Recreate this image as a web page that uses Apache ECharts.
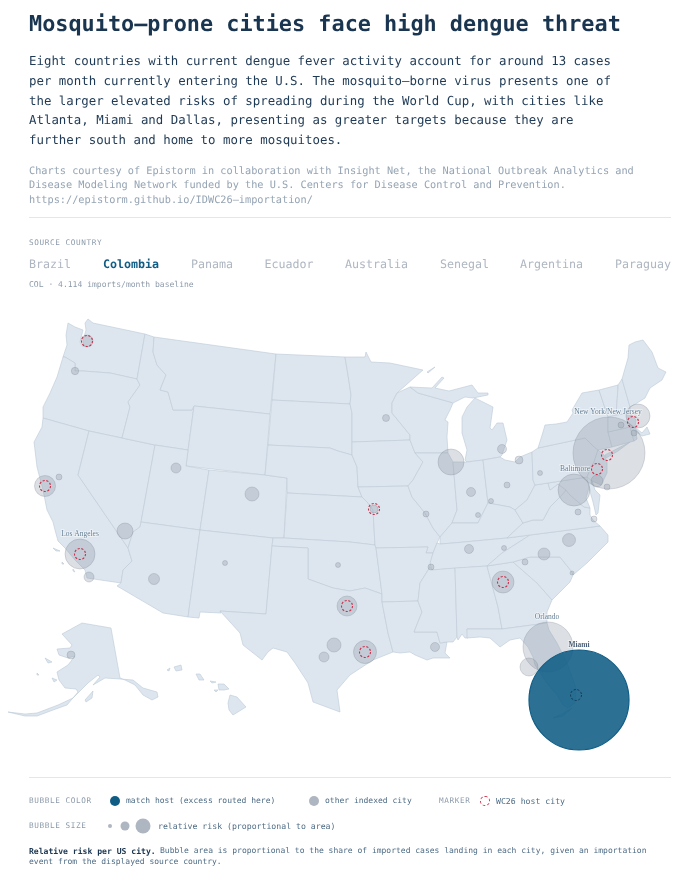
<!DOCTYPE html>
<html><head><meta charset="utf-8">
<script src="https://cdn.jsdelivr.net/npm/echarts@6/dist/echarts.min.js"></script>
<style>
html,body{margin:0;padding:0;background:#fff;width:700px;height:875px;overflow:hidden}
body{position:relative;font-family:"DejaVu Sans Mono",monospace;text-rendering:geometricPrecision}
#chart{position:absolute;left:0;top:0;width:700px;height:875px}
.t{position:absolute;white-space:pre;line-height:1;transform:translateY(-50%)}
.rule{position:absolute;left:29px;width:642px;height:1px;background:#e3e7eb}
.dot{position:absolute;border-radius:50%;transform:translate(-50%,-50%);box-sizing:border-box}
</style></head><body>
<div id="chart"></div>
<div id="page"></div>
<script>
// ---------- data ----------
const titleText = "Mosquito–prone cities face high dengue threat";
const ledeLines = [
 "Eight countries with current dengue fever activity account for around 13 cases",
 "per month currently entering the U.S. The mosquito–borne virus presents one of",
 "the larger elevated risks of spreading during the World Cup, with cities like",
 "Atlanta, Miami and Dallas, presenting as greater targets because they are",
 "further south and home to more mosquitoes."];
const sourceLines = [
 "Charts courtesy of Epistorm in collaboration with Insight Net, the National Outbreak Analytics and",
 "Disease Modeling Network funded by the U.S. Centers for Disease Control and Prevention.",
 "https://epistorm.github.io/IDWC26–importation/"];
const countries = ["Brazil","Colombia","Panama","Ecuador","Australia","Senegal","Argentina","Paraguay"];
const activeCountry = "Colombia";

// city name, map x, map y (map units of the base map), relative risk share
const cityNames = ["Orlando","New York/New Jersey","Washington","Los Angeles","Chicago","Boston","Houston","Atlanta","San Francisco","Dallas","Tampa","Denver","Las Vegas","Austin","Raleigh","Charlotte","Seattle","Philadelphia","Phoenix","Salt Lake City","San Diego","San Antonio","New Orleans","Detroit","Indianapolis","Nashville","Portland","Cleveland","Anchorage","Kansas City","Minneapolis","Sacramento","Columbus","St. Louis","Memphis","Greenville","Hartford","Providence","Atlantic City","Richmond","Norfolk","Pittsburgh","Albuquerque","Oklahoma City","Cincinnati","Louisville","Knoxville","Wilmington"];
const cityX = [548,609,574,80,451,638,365,503,45,347,529,252,125,334,569,544,87,597,154,176,89,324,435,502,471,469,75,519,71,374,386,59,507,426,431,525,621,634,607,578,594,540,225,338,491,478,504,572];
const cityY = [647,453,490,554,462,416,652,582,486,606,667,494,531,645,540,554,341,481,579,468,577,657,647,449,492,549,371,460,655,509,418,477,485,514,567,562,425,433,487,512,519,473,563,565,501,515,548,573];
const cityShare = [25,51.84,10.24,9,6.76,5.76,5.29,4.84,4.41,4,3.24,1.96,2.56,1.96,1.69,1.44,1.44,1.44,1.21,1,1,1,0.81,0.81,0.81,0.81,0.55,0.64,0.64,0.64,0.49,0.36,0.36,0.36,0.36,0.36,0.36,0.36,0.36,0.36,0.36,0.25,0.25,0.25,0.25,0.25,0.25,0.16];
const matchCity = {name:"Miami", x:579, y:700, share:100};
// WC26 host markers
const hostNames = ["Seattle","San Francisco","Los Angeles","Kansas City","Dallas","Houston","Atlanta","New York/New Jersey","Philadelphia","Boston"];
const hostX = [87,45,80,374,347,365,503,607,597,633];
const hostY = [341,486,554,509,606,652,582,455,469,422];
const miamiHost = {x:576,y:695};
// labelled cities
const labels = [
 {text:"Los Angeles",x:80,y:534,bold:false},
 {text:"Orlando",x:547,y:617,bold:false},
 {text:"Miami",x:579,y:645,bold:true},
 {text:"New York/New Jersey",x:608,y:412,bold:false},
 {text:"Baltimore",x:575,y:469,bold:false}];

// base map shapes, flat x,y lists
const STATES = {
WA:[88,319,93,323,145,334,137,379,110,373,83,371,75,371,75,363,65,357,63,357,67,345,66,335,68,323,75,327,83,330,80,342,82,346,84,346,83,340,86,330,85,323],
OR:[63,357,65,357,75,363,75,371,83,371,110,373,137,379,140,385,128,402,130,407,122,438,89,431,43,418,43,407,50,393,57,377],
CA:[43,418,89,431,78,475,128,548,132,561,123,570,121,583,87,578,85,570,75,560,65,548,58,541,55,530,53,522,47,510,43,490,37,467,34,442,42,427],
NV:[89,431,122,438,155,445,141,522,140,527,133,532,128,548,78,475],
ID:[145,334,154,337,153,352,157,365,166,375,160,390,168,392,173,410,192,410,194,406,188,450,155,445,122,438,130,407,128,402,140,385,137,379],
MT:[154,337,276,354,270,414,194,406,192,410,173,410,168,392,160,390,166,375,157,365,153,352],
WY:[194,406,270,414,265,475,186,466],
UT:[155,445,188,450,186,466,209,470,200,530,141,522],
CO:[209,470,265,475,287,478,284,538,273,538,200,530],
AZ:[141,522,200,530,188,617,163,613,117,586,121,583,123,570,132,561,128,548,133,532,140,527],
NM:[200,530,273,538,272,546,266,614,220,611,221,613,200,612,199,618,188,617],
ND:[276,354,345,357,348,375,351,395,350,404,272,400],
SD:[272,400,350,404,352,413,352,442,352,455,338,451,330,448,268,445],
NE:[268,445,330,448,338,451,352,455,357,467,358,487,362,497,287,493,287,478,265,475],
KS:[287,493,362,497,368,503,373,510,375,545,350,542,284,538],
OK:[273,538,284,538,350,542,375,545,376,548,382,594,365,588,350,591,333,588,308,579,308,548,272,546],
TX:[272,546,308,548,308,579,333,588,350,591,365,588,382,594,382,602,388,633,393,652,373,660,350,675,337,690,340,712,313,702,308,683,295,663,287,652,273,648,268,652,262,660,243,645,240,633,220,611,266,614],
MN:[345,357,365,357,366,352,371,362,390,363,423,370,397,393,392,403,392,413,410,435,410,440,352,442,352,413,350,404,351,395,348,375],
IA:[352,442,410,440,415,453,423,462,413,480,408,486,358,487,357,467,352,455],
MO:[358,487,408,486,412,497,425,513,433,528,440,537,437,543,433,553,426,553,428,547,376,548,375,545,373,510,368,503,362,497],
AR:[376,548,428,547,426,553,433,553,430,567,420,583,418,601,382,602,382,594],
LA:[382,602,418,601,422,612,414,632,437,632,440,643,447,642,445,653,450,658,433,658,427,660,415,655,410,652,400,653,393,652,388,633],
WI:[397,393,410,387,418,393,450,402,453,403,450,410,445,420,448,422,447,437,448,453,415,453,410,440,410,435,392,413,392,403],
UP:[410,387,432,388,442,377,444,378,435,388,449,391,472,385,478,393,488,393,488,395,473,398,465,397,453,403,450,402,418,393],
IR:[427,372,435,367,436,368,428,373],
LP:[475,398,493,407,490,428,492,430,497,423,503,423,507,440,502,455,500,457,483,460,467,462,465,460,467,450,462,433,462,417,467,407],
IL:[415,453,448,453,453,462,457,510,452,523,440,537,433,528,425,513,412,497,408,486,413,480,423,462],
IN:[453,462,463,462,467,462,483,460,488,503,478,523,452,523,457,510],
OH:[483,460,500,457,505,460,515,462,520,457,532,452,533,480,535,485,527,500,515,510,510,507,488,503],
KY:[440,537,452,523,478,523,488,503,510,507,515,510,523,523,507,538,453,543,440,544],
TN:[440,544,453,543,507,538,530,535,502,553,487,566,432,570,430,563,433,553,437,543],
MS:[432,570,455,568,457,637,453,642,447,642,440,643,437,632,414,632,422,612,418,601,420,583,430,567],
AL:[455,568,487,566,498,607,502,629,467,629,468,638,465,638,462,634,458,640,457,637],
GA:[487,566,513,562,537,583,552,600,547,612,547,623,502,629,498,607],
SC:[513,562,530,557,560,557,572,572,573,575,570,582,552,600,537,583],
NC:[530,535,600,526,608,535,608,542,600,550,587,563,573,575,572,572,560,557,530,557,513,562,487,566,502,553],
VA:[507,538,523,523,533,520,543,520,550,507,560,497,566,490,570,495,584,507,590,508,590,515,593,520,600,526,530,535],
WV:[515,510,527,500,535,485,548,483,550,490,558,484,566,490,560,497,550,507,543,520,533,520,523,523],
MD:[548,483,587,477,589,488,586,498,590,508,584,507,570,495,566,490,558,484,550,490],
DM:[587,477,591,477,595,490,600,495,598,513,596,515,593,502,589,488],
PA:[532,452,538,448,585,438,592,445,598,450,594,462,590,470,587,477,535,485,533,480],
NY:[538,448,543,432,545,425,556,424,567,422,573,413,572,410,582,393,599,390,603,402,608,417,608,432,612,447,598,450,592,445,585,438],
LI:[605,455,630,442,618,451,606,458],
NJ:[598,450,604,455,607,462,607,473,601,485,592,481,587,477,590,470,594,462],
CT:[608,432,630,427,634,441,612,447],
RI:[630,427,635,427,637,439,634,441],
MA:[608,417,616,415,630,413,636,420,635,427,642,433,647,427,650,434,642,436,635,431,630,427,608,432],
VT:[599,390,618,385,618,388,616,415,608,417,603,402],
NH:[618,385,622,379,630,407,630,413,616,415,618,388],
ME:[622,379,628,358,629,345,635,342,643,340,652,352,658,368,666,372,662,380,650,388,645,398,637,403,630,407],
FL:[467,629,502,629,547,623,549,630,557,643,567,663,576,688,575,703,568,708,563,705,557,695,547,683,535,665,533,657,528,647,520,638,510,640,500,647,490,638,480,637,467,638],
FK:[553,718,562,714,572,708,563,716],
AK:[111,628,82,623,62,634,72,645,70,648,57,649,59,655,68,658,75,656,68,665,57,672,59,680,65,688,76,689,78,692,67,705,53,710,37,716,25,716,8,712,25,714,37,713,58,705,73,698,88,683,98,675,100,677,93,685,105,678,120,679,133,680,143,688,157,692,158,697,152,700,143,695,135,685,125,680,120,678],
AK2:[45,658,52,662,48,663],AK3:[52,678,57,680,54,682],AK4:[85,700,93,691,92,698,86,702],AK5:[37,673,39,675,37,675],
CI1:[53,548,60,551,56,551],CI2:[62,562,64,564,62,564],CI3:[73,569,75,572,73,571],
HI1:[228,703,230,695,237,697,246,707,233,715,229,710],HI2:[218,684,224,684,229,689,224,690,219,690],HI3:[196,674,200,674,204,680,199,680],HI4:[174,667,181,665,182,670,176,671],HI5:[167,670,170,668,169,671],HI6:[210,681,216,682,212,683],HI7:[214,690,218,690,216,692]
};

// ---------- map ----------
const features = Object.keys(STATES).map(k=>{
  const f=STATES[k], ring=[];
  for(let i=0;i<f.length;i+=2) ring.push([f[i],f[i+1]]);
  ring.push([f[0],f[1]]);
  return {type:"Feature",properties:{name:k},geometry:{type:"Polygon",coordinates:[ring]}};
});
let minX=1e9,maxX=-1e9,minY=1e9,maxY=-1e9;
features.forEach(g=>g.geometry.coordinates[0].forEach(p=>{minX=Math.min(minX,p[0]);maxX=Math.max(maxX,p[0]);minY=Math.min(minY,p[1]);maxY=Math.max(maxY,p[1]);}));
echarts.registerMap("usa",{type:"FeatureCollection",features});

const sizeOf = s => 2*50*Math.sqrt(s/100);
const otherData = cityNames.map((n,i)=>({name:n,value:[cityX[i],cityY[i],cityShare[i]]}));
const chart = echarts.init(document.getElementById("chart"),null,{renderer:"canvas"});
chart.setOption({
  animation:false,
  geo:{map:"usa",silent:true,roam:false,
    projection:{project:p=>p,unproject:p=>p},
    left:minX,top:minY,width:maxX-minX,height:maxY-minY,
    itemStyle:{areaColor:"#dde6ee",borderColor:"#bccad6",borderWidth:0.6},
    label:{show:false},emphasis:{disabled:true}},
  series:[
   {type:"scatter",coordinateSystem:"geo",silent:true,z:3,data:otherData,
    symbolSize:v=>sizeOf(v[2]),
    itemStyle:{opacity:1,color:"rgba(140,148,163,0.3)",borderColor:"rgba(120,130,145,0.4)",borderWidth:0.7}},
   {type:"scatter",coordinateSystem:"geo",silent:true,z:4,
    data:[{name:matchCity.name,value:[matchCity.x,matchCity.y,matchCity.share]}],
    symbolSize:v=>sizeOf(v[2]),
    itemStyle:{opacity:1,color:"rgba(15,92,133,0.88)",borderColor:"#0f5c85",borderWidth:1.2}},
   {type:"scatter",coordinateSystem:"geo",silent:true,z:5,symbolSize:11,
    data:hostNames.map((n,i)=>({name:n,value:[hostX[i],hostY[i]]})),
    itemStyle:{opacity:1,color:"rgba(0,0,0,0)",borderColor:"#c8344f",borderWidth:1.1,borderType:[2.2,1.6]}},
   {type:"scatter",coordinateSystem:"geo",silent:true,z:5,symbolSize:11,
    data:[{name:"Miami",value:[miamiHost.x,miamiHost.y]}],
    itemStyle:{opacity:1,color:"rgba(0,0,0,0)",borderColor:"#123a55",borderWidth:1,borderType:[2.2,1.6]}},
   {type:"scatter",coordinateSystem:"geo",silent:true,z:6,symbolSize:0,
    data:labels.map(l=>({name:l.text,value:[l.x,l.y],label:{
      show:true,position:"inside",formatter:l.text,
      fontFamily:"Liberation Serif",fontSize:7.5,fontWeight:l.bold?"bold":"normal",
      color:l.bold?"#1a3550":"#3f5f7a",textBorderColor:"rgba(255,255,255,0.7)",textBorderWidth:1.5}}))}
  ]
});

// ---------- page text ----------
const page=document.getElementById("page");
function T(text,x,y,size,color,weight,extra){
  const d=document.createElement("div");d.className="t";d.textContent=text;
  d.style.cssText=`left:${x}px;top:${y}px;font-size:${size}px;color:${color};font-weight:${weight||"normal"};`+(extra||"");
  page.appendChild(d);return d;
}
function R(y){const d=document.createElement("div");d.className="rule";d.style.top=y+"px";page.appendChild(d);}
function D(x,y,r,css){const d=document.createElement("div");d.className="dot";d.style.cssText=`left:${x}px;top:${y}px;width:${2*r}px;height:${2*r}px;${css}`;page.appendChild(d);}
const caps="letter-spacing:0.6px;";

T(titleText,29,25,21.85,"#1a3550","bold");
[61,81,100.5,120.3,140].forEach((y,i)=>T(ledeLines[i],29,y,12.4,"#1f3a55"));
[170.5,185,199.5].forEach((y,i)=>T(sourceLines[i],29,y,10.25,"#94a3b3"));
R(217);
T("SOURCE COUNTRY",29,243,7.7,"#8c9aaa","normal",caps);
const tabX=[29,103,191,264.5,345,440,520,615];
countries.forEach((c,i)=>T(c,tabX[i],264.5,11.65,c===activeCountry?"#0f5c85":"#aeb6c1",c===activeCountry?"bold":"normal"));
T("COL · 4.114 imports/month baseline",29,285,8.05,"#8c9aaa");
R(777);
T("BUBBLE COLOR",29,801,7.7,"#8c9aaa","normal",caps);
D(115,801,5,"background:#0f5c85");
T("match host (excess routed here)",126,801,8,"#4d6b85");
D(314,801,5,"background:#aeb6c1");
T("other indexed city",325,801,8,"#4d6b85");
T("MARKER",439,801,7.7,"#8c9aaa","normal",caps);
D(485,801,5,"border:1px dashed #c8344f");
T("WC26 host city",496,801,8.2,"#4d6b85");
T("BUBBLE SIZE",29,825.6,7.7,"#8c9aaa","normal",caps);
D(110,825.6,2,"background:#aeb6c1");
D(124.5,825.6,4.5,"background:#aeb6c1");
D(143,825.6,7.5,"background:#aeb6c1");
T("relative risk (proportional to area)",158,825.6,8.2,"#4d6b85");
T("Relative risk per US city.",29,850.5,8.1,"#1a3550","bold");
T("Bubble area is proportional to the share of imported cases landing in each city, given an importation",160,850.5,8,"#4d6b85");
T("event from the displayed source country.",29,862,8,"#4d6b85");
</script>
</body></html>
